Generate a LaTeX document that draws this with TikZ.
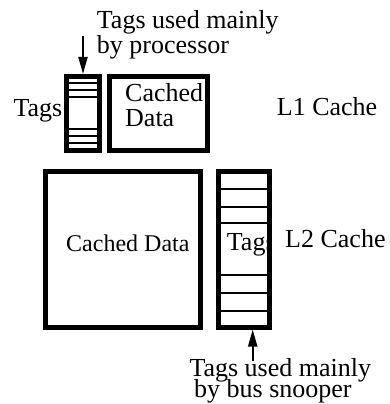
\documentclass[tikz,border=0pt]{standalone}
\usepackage{fontspec}
\setmainfont{Liberation Serif}
\usetikzlibrary{arrows.meta}
\begin{document}
\begin{tikzpicture}[x=1pt,y=-1pt,
  box/.style={draw, line width=5pt, inner sep=0pt},
  lbl/.style={anchor=base west, inner sep=0pt, font=\fontsize{26}{25}\selectfont},
  row/.style={line width=2pt},
  ptr/.style={line width=2pt, -{Triangle[length=17pt,width=9pt]}}]
\useasboundingbox (0,0) rectangle (390,404);
% L1 cache
\draw[row] (66.8,83) -- (99.2,83) (66.8,90) -- (99.2,90) (66.8,97) -- (99.2,97)
           (66.8,129) -- (99.2,129) (66.8,136) -- (99.2,136) (66.8,143) -- (99.2,143);
\node[box, minimum width=32.4pt, minimum height=74pt] (l1tags) at (83,113.5) {};
\node[box, minimum width=98.5pt, minimum height=74pt] (l1data) at (158.25,113.5) {};
\node[lbl] (l1tagslbl) at (13.3,116.7) {Tags};
\node[lbl] (l1d1) at (125,101.7) {Cached};
\node[lbl] (l1d2) at (125,126.7) {Data};
\node[lbl] (l1name) at (276.7,115) {L1 Cache};
\node[lbl] (top1) at (96.7,28.3) {Tags used mainly};
\node[lbl] (top2) at (96.7,53) {by processor};
\coordinate (a1) at (83,36);
\draw[ptr] (a1) -- (l1tags.north);
% L2 cache
\node[box, minimum width=155.3pt, minimum height=156pt] (l2data) at (123.15,249) {};
\node[lbl, font=\fontsize{24}{24}\selectfont] (l2dlbl) at (66,251.7) {Cached Data};
\begin{scope}
\clip (218,171) rectangle (269.7,327);
\node[lbl] (l2tagslbl) at (226.7,250) {Tags};
\end{scope}
\draw[row] (218,189) -- (269.7,189) (218,207) -- (269.7,207) (218,223) -- (269.7,223)
           (218,275) -- (269.7,275) (218,293) -- (269.7,293) (218,311) -- (269.7,311);
\node[box, minimum width=51.7pt, minimum height=156pt] (l2tags) at (243.85,249) {};
\node[lbl] (l2name) at (285,247.3) {L2 Cache};
\node[lbl] (bot1) at (189.3,376) {Tags used mainly};
\node[lbl] (bot2) at (194,397) {by bus snooper};
\coordinate (a2) at (252.7,361);
\draw[ptr] (a2) -- (a2 |- l2tags.south);
\end{tikzpicture}
\end{document}
